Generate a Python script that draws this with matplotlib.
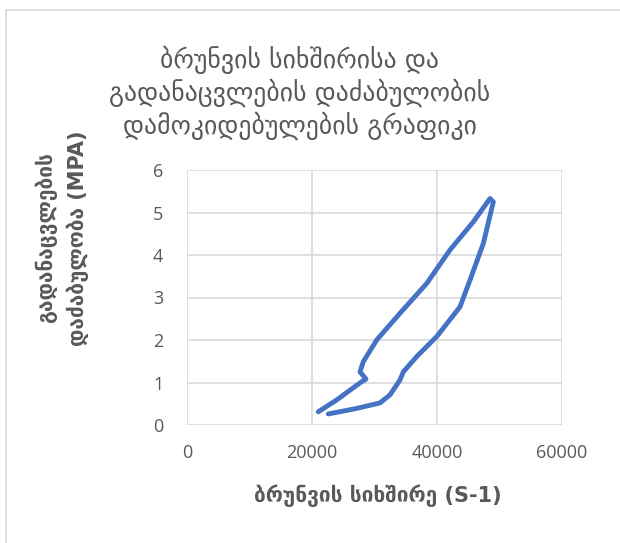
import matplotlib
matplotlib.use("Agg")
import matplotlib.pyplot as plt
from matplotlib.patches import Rectangle

# rotation frequency (s-1) and shear stress (MPa)
freq = [21000, 23950, 27950, 28640, 27680, 28210, 30350, 34080, 38350,
        42080, 45810, 48480, 49010, 47410, 45280, 43680, 39950, 36750,
        34610, 34080, 32480, 30880, 27150, 22610]
stress = [0.31, 0.59, 1.02, 1.08, 1.25, 1.49, 2.00, 2.63, 3.33,
          4.12, 4.78, 5.33, 5.25, 4.27, 3.41, 2.78, 2.08, 1.61,
          1.25, 1.06, 0.71, 0.52, 0.39, 0.26]

x_ticks = [0, 20000, 40000, 60000]
y_ticks = [0, 1, 2, 3, 4, 5, 6]

title = "ბრუნვის სიხშირისა და\nგადანაცვლების დაძაბულობის\nდამოკიდებულების გრაფიკი"
xlabel = "ბრუნვის სიხშირე (S-1)"
ylabel = "გადანაცვლების\nდაძაბულობა (MPA)"

gray = "#595959"
grid = "#D9D9D9"

fig = plt.figure(figsize=(6.2, 5.43), dpi=100)
W, H = 620, 543

# chart border
fig.patches.append(Rectangle((6 / W, -0.1), 1.2, 1 - 10 / H + 0.1,
                             transform=fig.transFigure, fill=False,
                             edgecolor=grid, linewidth=1.2))

ax = fig.add_axes([187 / W, 1 - 425 / H, (562 - 187) / W, (425 - 170) / H])
ax.plot(freq, stress, color="#4472C4", linewidth=3.5,
        solid_joinstyle="round", solid_capstyle="round")

ax.set_xlim(0, 60000)
ax.set_ylim(0, 6)
ax.set_xticks(x_ticks)
ax.set_yticks(y_ticks)
ax.grid(True, color=grid, linewidth=1.2)
ax.set_axisbelow(True)
for s in ax.spines.values():
    s.set_visible(False)
ax.tick_params(length=0, colors=gray, labelsize=13)
ax.tick_params(axis="x", pad=14)
ax.tick_params(axis="y", pad=17)
for lab in ax.get_xticklabels() + ax.get_yticklabels():
    lab.set_family("Open Sans")

fig.text(300 / W, 1 - 93 / H, title, ha="center", va="center",
         fontsize=18.5, color=gray, linespacing=1.2)
fig.text(378 / W, 1 - 496 / H, xlabel, ha="center", va="center",
         fontsize=15, color=gray, fontweight="bold")
fig.text(62 / W, 1 - 238 / H, ylabel, ha="center", va="center",
         rotation=90, fontsize=15, color=gray, fontweight="bold",
         linespacing=1.55)

fig.savefig("out.png", dpi=100)
